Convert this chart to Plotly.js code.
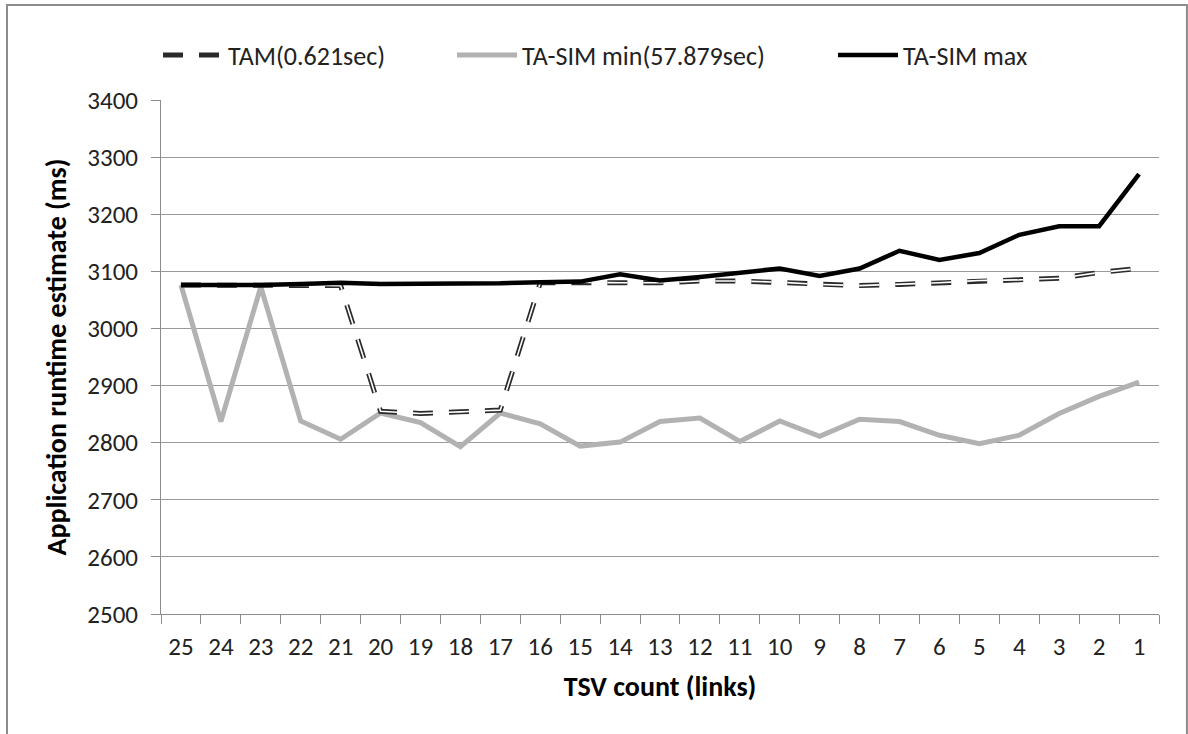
<!DOCTYPE html>
<html>
<head>
<meta charset="utf-8">
<script src="https://cdn.plot.ly/plotly-3.0.1.min.js"></script>
<style>
html,body{margin:0;padding:0;background:#fff;}
#chart{width:1188px;height:734px;}
</style>
</head>
<body>
<div id="chart"></div>
<script>
const categories = ["25","24","23","22","21","20","19","18","17","16","15","14","13","12","11","10","9","8","7","6","5","4","3","2","1"];
const tam =       [3076,3076,3076,3076,3075,2855,2851,2854,2857,3080,3081,3080,3080,3083,3083,3081,3077,3075,3077,3080,3084,3085,3088,3098,3105];
const tasimMin =  [3076,2837,3073,2838,2806,2852,2835,2793,2852,2833,2794,2801,2837,2843,2802,2838,2811,2841,2837,2813,2798,2813,2851,2881,2906];
const tasimMax =  [3076,3076,3076,3078,3080,3078,3078,3078,3079,3081,3082,3095,3084,3090,3097,3105,3092,3105,3136,3120,3132,3164,3179,3179,3270];
const yTicks = [2500,2600,2700,2800,2900,3000,3100,3200,3300,3400];
const names = ["TAM(0.621sec)","TA-SIM min(57.879sec)","TA-SIM max"];

const FONT = "Calibri, Carlito, Lato, 'Open Sans', sans-serif";

const tamDark = {x: categories, y: tam, name: names[0], type: "scatter", mode: "lines", legend: "legend",
   line: {color: "#2a2a2a", width: 5, dash: "20px,16px"}};
const tamWhite = {x: categories, y: tam, name: names[0], type: "scatter", mode: "lines", showlegend: false, hoverinfo: "skip",
   line: {color: "#ffffff", width: 1.6, dash: "20px,16px"}};
const minTrace = {x: categories, y: tasimMin, name: names[1], type: "scatter", mode: "lines", legend: "legend2",
   line: {color: "#b2b2b2", width: 5}};
const maxTrace = {x: categories, y: tasimMax, name: names[2], type: "scatter", mode: "lines", legend: "legend3",
   line: {color: "#000000", width: 4.5}};

function legendAt(px) {
  return {orientation: "h", xref: "container", yref: "container",
          x: px / 1188, y: 0.925, xanchor: "left", yanchor: "middle",
          font: {family: FONT, size: 26, color: "#222"},
          itemwidth: 60, bgcolor: "rgba(0,0,0,0)"};
}

const layout = {
  width: 1188, height: 734,
  margin: {l: 161, r: 29, t: 100, b: 120},
  paper_bgcolor: "#fff", plot_bgcolor: "#fff",
  font: {family: FONT, size: 24, color: "#222"},
  showlegend: true,
  legend: legendAt(158),
  legend2: legendAt(452),
  legend3: legendAt(833),
  xaxis: {type: "category", categoryorder: "array", categoryarray: categories,
          range: [-0.5, 24.5],
          tickson: "boundaries", ticks: "outside", ticklen: 9, tickcolor: "#8c8c8c",
          showline: true, linecolor: "#8c8c8c", linewidth: 1, showgrid: false,
          ticklabelstandoff: 10,
          tickfont: {family: FONT, size: 25, color: "#222"},
          title: {text: "<b>TSV count (links)</b>", font: {family: FONT, size: 28, color: "#000"}, standoff: 15},
          zeroline: false, fixedrange: true},
  yaxis: {range: [2500, 3400], tickvals: yTicks, ticktext: yTicks.map(String),
          ticks: "outside", ticklen: 9, tickcolor: "#8c8c8c",
          showline: true, linecolor: "#8c8c8c", linewidth: 1,
          showgrid: true, gridcolor: "#9a9a9a", gridwidth: 1, zeroline: false,
          ticklabelstandoff: 8,
          tickfont: {family: FONT, size: 25, color: "#222"},
          title: {text: "<b>Application runtime estimate (ms)</b>", font: {family: FONT, size: 28, color: "#000"}, standoff: 12},
          fixedrange: true},
  shapes: [
    {type: "rect", xref: "paper", yref: "paper",
     x0: -0.1543, x1: 1.028, y0: -0.26, y1: 1.1848,
     line: {color: "#8c8c8c", width: 2}, fillcolor: "rgba(0,0,0,0)", layer: "below"}
  ]
};

Plotly.newPlot("chart", [minTrace, tamDark, tamWhite, maxTrace], layout, {staticPlot: true, displayModeBar: false});
</script>
</body>
</html>
